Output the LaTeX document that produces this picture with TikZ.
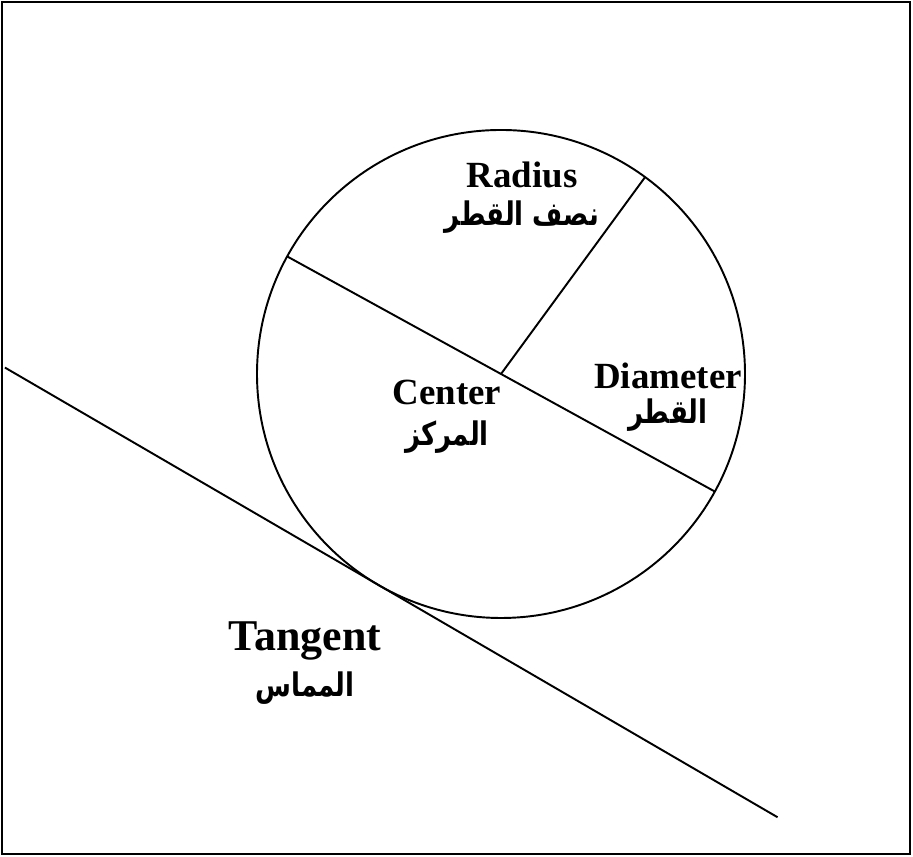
\documentclass[tikz,border=0pt]{standalone}
\usepackage{fontspec}
\setmainfont{Liberation Serif}
\newfontfamily\arabicfont[Script=Arabic,FakeStretch=0.8]{DejaVu Sans}
\TeXXeTstate=1
\usetikzlibrary{calc,positioning}

\tikzset{
  enlbl/.style={font=\fontsize{21}{24}\selectfont\bfseries,inner sep=0pt},
  arlbl/.style={font=\fontsize{18.5}{22}\selectfont\arabicfont\bfseries,inner sep=0pt},
  geo/.style={line width=1.1pt}
}

\begin{document}
\begin{tikzpicture}[x=0.02cm,y=0.02cm]
    \useasboundingbox (0,0) rectangle (913,857);
    \draw[line width=1.6pt] (2,3) rectangle (910,855);

    % circle and its parts
    \coordinate (O) at (501,483);
    \draw[geo] (O) circle [radius=244];
    \coordinate (dL) at ($(O)+(151.2:244)$);
    \coordinate (dR) at ($(O)+(-28.8:244)$);
    \coordinate (rE) at ($(O)+(53.8:244)$);
    \draw[geo] (dL) -- (dR);
    \draw[geo] (O) -- (rE);

    % tangent touching the circle
    \coordinate (T) at ($(O)+(239.8:244)$);
    \coordinate (tA) at ($(T)+(149.8:432)$);
    \coordinate (tB) at ($(T)+(-30.2:462)$);
    \draw[geo] (tA) -- (T) -- (tB);

    \foreach \n/\x/\y/\t/\a/\g in {
      radius/522/682/Radius/نصف القطر/7pt,
      center/447/465/Center/المركز/9pt,
      diameter/668/481/Diameter/القطر/5pt}
    {
      \node[enlbl] (\n) at (\x,\y) {\t};
      \node[arlbl,below=\g of \n] (\n ar) {\beginR\a\endR};
    }
    \node[enlbl,font=\fontsize{25}{28}\selectfont\bfseries] (tangent) at (305,216) {Tangent};
    \node[arlbl,below=6pt of tangent] (tangent ar) {\beginR المماس\endR};
\end{tikzpicture}
\end{document}
